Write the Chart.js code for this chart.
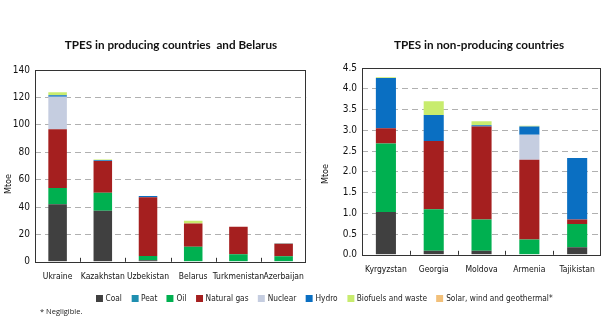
<!DOCTYPE html>
<html><head><meta charset="utf-8">
<script src="https://cdn.jsdelivr.net/npm/chart.js@4/dist/chart.umd.min.js"></script>
<style>
html,body{margin:0;padding:0;background:#fff;width:605px;height:330px;overflow:hidden;position:relative;}
.cv{position:absolute;}
.ttl{position:absolute;top:37px;font-family:Lato,sans-serif;font-weight:bold;font-size:11.7px;color:#111;text-align:center;white-space:nowrap;}
.ylab{position:absolute;font-family:'DejaVu Sans Condensed','DejaVu Sans',sans-serif;font-stretch:condensed;font-size:9px;color:#111;transform:rotate(-90deg);transform-origin:center center;white-space:nowrap;}
#legend{position:absolute;left:96px;top:292px;font-family:'DejaVu Sans Condensed','DejaVu Sans',sans-serif;font-stretch:condensed;font-size:9.5px;color:#222;white-space:nowrap;transform:scaleX(0.87);transform-origin:left center;}
#legend span.item{display:inline-block;margin-right:11px;}
#legend span.sw{display:inline-block;width:8px;height:7px;margin-right:3px;vertical-align:-0.5px;}
#note{position:absolute;left:40px;top:306px;font-family:'Open Sans',sans-serif;font-size:7.5px;color:#222;}
</style></head><body>
<div class="cv" style="left:0;top:0;width:314px;height:300px;"><canvas id="c1"></canvas></div>
<div class="cv" style="left:312px;top:0;width:293px;height:300px;"><canvas id="c2"></canvas></div>
<div class="ttl" style="left:21px;width:300px;">TPES in producing countries&nbsp; and Belarus</div>
<div class="ttl" style="left:329px;width:300px;">TPES in non-producing countries</div>
<div class="ylab" style="left:-4px;top:179px;width:24px;text-align:center;">Mtoe</div>
<div class="ylab" style="left:313px;top:169px;width:24px;text-align:center;">Mtoe</div>
<div id="legend"></div>
<div id="note">* Negligible.</div>
<script>
const seriesNames = ['Coal','Peat','Oil','Natural gas','Nuclear','Hydro','Biofuels and waste','Solar, wind and geothermal*'];
const seriesColors = ['#404040','#1f8fb0','#00b050','#a51f1f','#c5cde0','#0a6fc2','#c8ec6e','#f2c07a'];

const catsLeft = ['Ukraine','Kazakhstan','Uzbekistan','Belarus','Turkmenistan','Azerbaijan'];
const coalL    = [42, 37.3, 1.2, 0, 0, 0];
const peatL    = [0, 0, 0, 0.4, 0, 0];
const oilL     = [11.8, 13.1, 3, 10.6, 5.6, 4.1];
const gasL     = [42.9, 23.1, 42.9, 17, 20, 9];
const nuclearL = [23.8, 0, 0, 0, 0, 0];
const hydroL   = [1, 0.7, 1, 0, 0, 0.2];
const bioL     = [2.2, 0.4, 0, 2, 0, 0.3];
const solarL   = [0, 0, 0, 0, 0, 0];
const ticksLeft = [0,20,40,60,80,100,120,140];

const catsRight = ['Kyrgyzstan','Georgia','Moldova','Armenia','Tajikistan'];
const coalR    = [1.03, 0.10, 0.10, 0, 0.18];
const peatR    = [0, 0, 0, 0, 0];
const oilR     = [1.65, 1.00, 0.75, 0.37, 0.56];
const gasR     = [0.37, 1.64, 2.24, 1.92, 0.11];
const nuclearR = [0, 0, 0, 0.60, 0];
const hydroR   = [1.21, 0.63, 0.03, 0.20, 1.48];
const bioR     = [0.02, 0.33, 0.10, 0.02, 0];
const solarR   = [0, 0, 0, 0, 0];
const ticksRight = [0,0.5,1.0,1.5,2.0,2.5,3.0,3.5,4.0,4.5];

const condFamily = "'DejaVu Sans Condensed','DejaVu Sans',sans-serif";

const boxPlugin = {
  id:'box',
  afterDraw(chart){
    const {ctx, chartArea:a, scales:{x}} = chart;
    ctx.save();
    ctx.strokeStyle='#333'; ctx.lineWidth=1; ctx.setLineDash([]);
    ctx.strokeRect(Math.round(a.left)+0.5, Math.round(a.top)+0.5, Math.round(a.right-a.left)-1, Math.round(a.bottom-a.top));
    const n = x.ticks.length;
    for(let i=1;i<n;i++){
      const p = Math.round((x.getPixelForTick(i-1)+x.getPixelForTick(i))/2)+0.5;
      ctx.beginPath(); ctx.moveTo(p, a.bottom); ctx.lineTo(p, a.bottom-4); ctx.stroke();
    }
    ctx.restore();
  }
};

function makeChart(id, cats, data, max, tickVals, yWidth, barFrac, padTop, padBottom, decimals){
  const ds = data.map((d,i)=>({label:seriesNames[i], data:d, backgroundColor:seriesColors[i], borderWidth:0,
    barPercentage:barFrac, categoryPercentage:1}));
  return new Chart(document.getElementById(id), {
    type:'bar',
    data:{labels:cats, datasets:ds},
    options:{
      responsive:true, maintainAspectRatio:false, animation:false,
      layout:{padding:{left:0,right:2,top:padTop,bottom:padBottom}},
      plugins:{ legend:{display:false}, tooltip:{enabled:false}, title:{display:false} },
      scales:{
        x:{stacked:true, grid:{display:false, drawTicks:false}, border:{display:false},
           ticks:{color:'#111', font:{family:condFamily, size:8.5, weight:'normal condensed'}, padding:10, maxRotation:0, autoSkip:false}},
        y:{stacked:true, min:0, max:max,
           afterFit(s){ s.width = yWidth; },
           afterBuildTicks(s){ s.ticks = tickVals.map(v=>({value:v})); },
           border:{display:false, dash:[6,4]},
           grid:{color:(c)=> (c.tick && (c.tick.value===0 || c.tick.value===max)) ? 'rgba(0,0,0,0)' : '#b0b0b0',
                 lineWidth:1, drawTicks:false},
           ticks:{color:'#111', font:{family:condFamily, size:10, weight:'normal condensed'}, padding:5,
                  callback:(v)=> decimals ? Number(v).toFixed(decimals) : v}
        }
      }
    },
    plugins:[boxPlugin]
  });
}

const c1 = makeChart('c1', catsLeft, [coalL,peatL,oilL,gasL,nuclearL,hydroL,bioL,solarL], 140, ticksLeft, 35, 0.41, 70, 8, 0);
const c2 = makeChart('c2', catsRight, [coalR,peatR,oilR,gasR,nuclearR,hydroR,bioR,solarR], 4.5, ticksRight, 50, 0.42, 68, 15, 1);
[c1,c2].forEach(c=>{ c.options.scales.y.grid.borderDash=[6,4]; c.options.scales.y.border.dash=[6,4]; c.update('none'); });

const lg = document.getElementById('legend');
seriesNames.forEach((n,i)=>{
  const s=document.createElement('span'); s.className='item';
  s.innerHTML='<span class="sw" style="background:'+seriesColors[i]+'"></span>'+n;
  lg.appendChild(s);
});
</script>
</body></html>
